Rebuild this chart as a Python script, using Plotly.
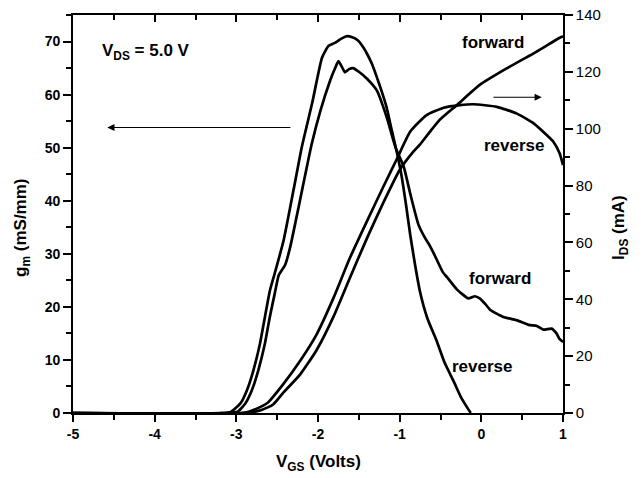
import plotly.graph_objects as go

# ---- data ----
gm_rev_x = [-5.0, -3.2, -3.07, -2.95, -2.87, -2.79, -2.71, -2.65, -2.59, -2.53, -2.42, -2.30, -2.20,
            -2.07, -1.95, -1.87, -1.80, -1.72, -1.65, -1.58, -1.51, -1.45, -1.40, -1.34, -1.28,
            -1.22, -1.16, -1.10, -1.04, -0.98, -0.92, -0.87, -0.81, -0.75, -0.66, -0.55, -0.45,
            -0.34, -0.25, -0.18, -0.13]
gm_rev_y = [0, 0, 0.2, 1.8, 4.3, 8.1, 13.1, 18.1, 23.0, 26.3, 32.6, 42.0, 50.0,
            58.5, 67.0, 69.2, 69.7, 70.5, 71.0, 70.8, 70.2, 69.0, 67.7, 65.8, 63.3,
            60.6, 57.6, 53.5, 49.5, 45.0, 39.0, 33.5, 27.8, 22.8, 17.8, 13.7, 9.5,
            6.0, 3.0, 1.2, 0]

gm_fwd_x = [-5.0, -3.1, -2.98, -2.89, -2.81, -2.73, -2.65, -2.59, -2.53, -2.48, -2.43, -2.40, -2.34,
            -2.22, -2.08, -1.97, -1.85, -1.79, -1.75, -1.70, -1.67, -1.62, -1.57, -1.50, -1.40,
            -1.28, -1.16, -1.05, -0.95, -0.87, -0.77, -0.69, -0.63, -0.58, -0.47, -0.42, -0.30,
            -0.16, -0.08, -0.02, 0.05, 0.11, 0.27, 0.43, 0.58, 0.68, 0.76, 0.86, 0.92, 0.96, 1.0]
gm_fwd_y = [0, 0, 0.3, 1.8, 4.3, 8.1, 13.1, 18.1, 22.5, 26.0, 27.2, 28.0, 31.3,
            40.1, 50.5, 57.0, 62.7, 65.0, 66.3, 65.0, 64.2, 64.8, 65.0, 64.3, 63.0,
            60.8, 55.8, 50.0, 46.4, 41.3, 35.5, 33.0, 31.5, 30.0, 26.5, 25.6, 23.3,
            21.6, 22.0, 21.6, 20.5, 19.4, 18.1, 17.5, 16.6, 16.4, 15.7, 15.9, 15.0, 13.9, 13.4]

ids_rev_x = [-5.0, -2.95, -2.85, -2.75, -2.62, -2.43, -2.22, -2.02, -1.81, -1.61, -1.40, -1.20,
             -1.04, -0.87, -0.67, -0.46, -0.26, -0.10, 0.19, 0.43, 0.64, 0.80, 0.88, 0.96, 1.0]
ids_rev_y = [0, 0, 0.4, 1.5, 3.5, 10.0, 18.3, 27.5, 40.5, 54.5, 67.5, 79.6,
             89.0, 99.0, 104.8, 107.4, 108.3, 108.6, 107.7, 105.4, 101.9, 97.8, 95.5, 91.3, 87.2]

ids_fwd_x = [-5.0, -2.90, -2.80, -2.70, -2.55, -2.43, -2.22, -2.02, -1.81, -1.61, -1.40, -1.20,
             -1.00, -0.83, -0.75, -0.63, -0.51, -0.30, -0.02, 0.31, 0.64, 0.96, 1.0]
ids_fwd_y = [0, 0, 0.3, 1.0, 3.0, 7.0, 13.5, 22.0, 33.9, 47.5, 61.5, 74.0,
             85.5, 92.0, 94.5, 98.9, 103.1, 108.3, 115.4, 121.2, 126.5, 132.0, 132.5]

x_tickvals = [-5, -4, -3, -2, -1, 0, 1]
x_ticktext = ["-5", "-4", "-3", "-2", "-1", "0", "1"]
y_tickvals = [0, 10, 20, 30, 40, 50, 60, 70]
y2_tickvals = [0, 20, 40, 60, 80, 100, 120, 140]

FONT = "Liberation Sans, Arial, sans-serif"
line = dict(color="black", width=2.7, shape="spline", smoothing=0.5)

fig = go.Figure()
fig.add_trace(go.Scatter(x=gm_rev_x, y=gm_rev_y, mode="lines", line=line, xaxis="x2", yaxis="y"))
fig.add_trace(go.Scatter(x=gm_fwd_x, y=gm_fwd_y, mode="lines", line=line, xaxis="x", yaxis="y"))
fig.add_trace(go.Scatter(x=ids_rev_x, y=ids_rev_y, mode="lines", line=line, xaxis="x", yaxis="y2"))
fig.add_trace(go.Scatter(x=ids_fwd_x, y=ids_fwd_y, mode="lines", line=line, xaxis="x", yaxis="y2"))

bold14 = dict(family=FONT, size=14, color="black", weight="bold")
common_axis = dict(showgrid=False, zeroline=False, showline=True, linecolor="black", linewidth=1.6,
                   automargin=False, ticklabeloverflow="allow")

fig.update_layout(
    width=642, height=478,
    margin=dict(l=73, r=79, t=15, b=65),
    paper_bgcolor="white", plot_bgcolor="white",
    showlegend=False,
    xaxis=dict(range=[-5, 1], tickvals=x_tickvals, ticktext=x_ticktext, ticks="outside",
               ticklen=7, tickwidth=1.5, tickcolor="black", tickfont=bold14,
               minor=dict(dtick=0.5, tick0=0, ticks="outside", ticklen=5, tickwidth=1.5, tickcolor="black"),
               **common_axis),
    xaxis2=dict(range=[-5, 1], overlaying="x", side="top", tickvals=x_tickvals, ticks="inside",
                ticklen=7, tickwidth=1.5, tickcolor="black", showticklabels=False,
                minor=dict(dtick=0.5, tick0=0, ticks="inside", ticklen=5, tickwidth=1.5, tickcolor="black"),
                **common_axis),
    yaxis=dict(range=[0, 75], tickvals=y_tickvals, ticks="outside", ticklen=8, tickwidth=1.5,
               tickcolor="black", tickfont=bold14,
               minor=dict(dtick=5, tick0=0, ticks="outside", ticklen=5, tickwidth=1.5, tickcolor="black"),
               **common_axis),
    yaxis2=dict(range=[0, 140], overlaying="y", side="right", tickvals=y2_tickvals, ticks="outside",
                ticklen=8, tickwidth=1.5, tickcolor="black",
                tickfont=dict(family=FONT, size=15, color="black"),
                minor=dict(dtick=10, tick0=0, ticks="outside", ticklen=5, tickwidth=1.5, tickcolor="black"),
                **common_axis),
)

lab = dict(family=FONT, size=17, color="black", weight="bold")
annots = [
    dict(text="V<sub>DS</sub> = 5.0 V", x=-4.67, y=68.0, xref="x", yref="y", xanchor="left",
         yanchor="middle", showarrow=False, font=lab),
    dict(text="forward", x=0.14, y=69.8, xref="x", yref="y", showarrow=False, font=lab),
    dict(text="reverse", x=0.40, y=50.4, xref="x", yref="y", showarrow=False, font=lab),
    dict(text="forward", x=0.23, y=25.4, xref="x", yref="y", showarrow=False, font=lab),
    dict(text="reverse", x=0.02, y=8.7, xref="x", yref="y", showarrow=False, font=lab),
    dict(text="V<sub>GS</sub> (Volts)", x=-2, y=0, xref="x", yref="paper", yshift=-50,
         xanchor="center", yanchor="middle", showarrow=False, font=lab),
    dict(text="g<sub>m</sub> (mS/mm)", x=0, y=0.465, xref="paper", yref="paper", xshift=-51,
         xanchor="center", yanchor="middle", textangle=-90, showarrow=False, font=lab),
    dict(text="I<sub>DS</sub> (mA)", x=1, y=0.465, xref="paper", yref="paper", xshift=57,
         xanchor="center", yanchor="middle", textangle=-90, showarrow=False, font=lab),
    dict(text="", x=-4.58, y=53.8, ax=-2.32, ay=53.8, xref="x", yref="y", axref="x", ayref="y",
         showarrow=True, arrowhead=2, arrowsize=1.2, arrowwidth=1.2, arrowcolor="black"),
    dict(text="", x=0.74, y=59.5, ax=0.13, ay=59.5, xref="x", yref="y", axref="x", ayref="y",
         showarrow=True, arrowhead=2, arrowsize=1.2, arrowwidth=1.2, arrowcolor="black"),
]
fig.update_layout(annotations=annots)

# remove the page's default 8px body margin so the figure sits at the window origin
fig.write_html("out.html", config={"displayModeBar": False},
               post_script="document.body.style.margin='0';")
